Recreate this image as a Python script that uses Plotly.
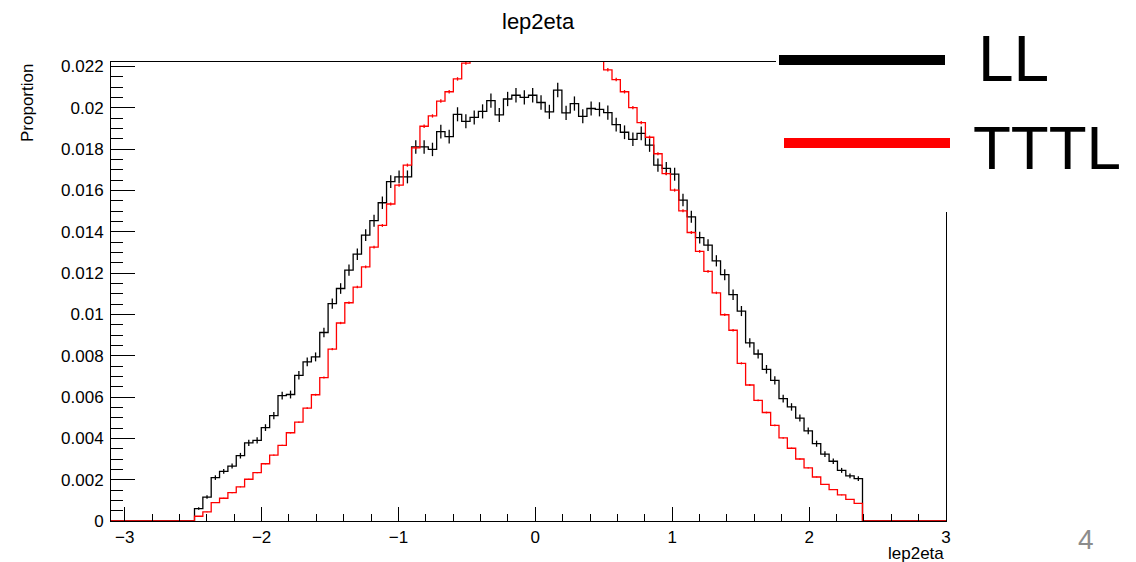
import numpy as np
import plotly.graph_objects as go

# ---------------- data (proportion per bin, 100 bins from -3.1 to 3.0) ----------------
X_MIN = -3.1
X_MAX = 3.0
N_BINS = 100

LL = [
    0, 0, 0, 0, 0, 0, 0, 0, 0, 0,
    0.0006, 0.00116, 0.0021, 0.0024, 0.00266, 0.00316, 0.00378, 0.0039, 0.00452, 0.0051,
    0.00607, 0.00612, 0.00705, 0.0077, 0.00794, 0.00912, 0.01052, 0.01125, 0.01214, 0.01291,
    0.01383, 0.01453, 0.0154, 0.01642, 0.01665, 0.01665, 0.0181, 0.0181, 0.01798, 0.01884,
    0.0186, 0.01968, 0.01934, 0.01953, 0.01982, 0.02034, 0.01965, 0.02042, 0.0206, 0.0205,
    0.0206, 0.02025, 0.0198, 0.02085, 0.01975, 0.0202, 0.01958, 0.01996, 0.01992, 0.01976,
    0.01918, 0.01881, 0.01847, 0.01876, 0.01819, 0.01722, 0.01706, 0.01678, 0.01553, 0.01472,
    0.01371, 0.01335, 0.01259, 0.01192, 0.01095, 0.01016, 0.00862, 0.00808, 0.00734, 0.0068,
    0.00592, 0.00552, 0.00498, 0.00436, 0.00374, 0.00324, 0.00289, 0.00245, 0.00218, 0.00205,
    0, 0, 0, 0, 0, 0, 0, 0, 0, 0,
]

TTTL = [
    0, 0, 0, 0, 0, 0, 0, 0, 0, 0,
    0.00023, 0.00044, 0.00089, 0.0011, 0.00137, 0.00165, 0.00202, 0.00234, 0.00277, 0.00319,
    0.00366, 0.00427, 0.00478, 0.00546, 0.00611, 0.00694, 0.00832, 0.00958, 0.01056, 0.01132,
    0.0123, 0.01325, 0.0143, 0.01534, 0.01625, 0.01722, 0.01805, 0.0191, 0.0196, 0.02032,
    0.02077, 0.02139, 0.02216, 0.02255, 0.0229, 0.02318, 0.02345, 0.0237, 0.02388, 0.02402,
    0.0241, 0.02412, 0.02405, 0.02392, 0.02372, 0.02348, 0.0232, 0.02285, 0.02245, 0.02183,
    0.02136, 0.02077, 0.02, 0.01928, 0.01857, 0.01777, 0.01681, 0.01601, 0.01501, 0.01396,
    0.01305, 0.01208, 0.01104, 0.00998, 0.00923, 0.00763, 0.00658, 0.00584, 0.00525, 0.00463,
    0.00402, 0.00352, 0.003, 0.00257, 0.00213, 0.00177, 0.00152, 0.00126, 0.00105, 0.00085,
    0, 0, 0, 0, 0, 0, 0, 0, 0, 0,
]

# approximate number of entries behind each normalised histogram (sets error-bar size)
LL_ENTRIES = 170000
TTTL_ENTRIES = 3000000

SERIES_NAMES = ["LL", "TTTL"]
TITLE = "lep2eta"
X_TITLE = "lep2eta"
Y_TITLE = "Proportion"
PAGE_NUMBER = "4"

Y_MAX = 0.02221

# ---------------- figure ----------------
W, H = 1136, 562
ML, MR, MT, MB = 111, 190, 62, 41
PW, PH = W - ML - MR, H - MT - MB

edges = np.linspace(X_MIN, X_MAX, N_BINS + 1)
centers = 0.5 * (edges[:-1] + edges[1:])

FONT = "Liberation Sans, Arial, Helvetica, sans-serif"


def px_x(px):
    return (px - ML) / PW


def px_y(py):
    return (H - MB - py) / PH


fig = go.Figure()


def add_hist(values, entries, color):
    v = np.asarray(values, dtype=float)
    fig.add_trace(go.Scatter(
        x=edges, y=np.append(v, v[-1]), mode="lines", line_shape="hv",
        line=dict(color=color, width=1.3), hoverinfo="skip", showlegend=False,
    ))
    nz = v > 0
    err = np.sqrt(v[nz] / entries)
    fig.add_trace(go.Scatter(
        x=centers[nz], y=v[nz], mode="markers",
        marker=dict(size=0.1, color=color),
        error_y=dict(type="data", array=err, width=0, thickness=1.3, color=color),
        hoverinfo="skip", showlegend=False,
    ))


add_hist(LL, LL_ENTRIES, "black")
add_hist(TTTL, TTTL_ENTRIES, "#ff0000")

fig.update_layout(
    width=W, height=H,
    margin=dict(l=ML, r=MR, t=MT, b=MB, pad=0),
    paper_bgcolor="white", plot_bgcolor="white",
    font=dict(family=FONT, size=17, color="black"),
    showlegend=False,
)

fig.update_xaxes(
    range=[X_MIN, X_MAX], showgrid=False, zeroline=False,
    showline=True, linecolor="black", linewidth=1, mirror=True,
    ticks="inside", ticklen=14, tickwidth=1, tickcolor="black",
    tick0=0, dtick=1, ticklabelstandoff=1,
    minor=dict(ticks="inside", ticklen=7, dtick=0.2, tick0=0, tickcolor="black", showgrid=False),
    tickfont=dict(family=FONT, size=17),
)
fig.update_yaxes(
    range=[0, Y_MAX], showgrid=False, zeroline=False,
    showline=True, linecolor="black", linewidth=1, mirror=True,
    ticks="inside", ticklen=24, tickwidth=1, tickcolor="black",
    tick0=0, dtick=0.002, ticklabelstandoff=3,
    minor=dict(ticks="inside", ticklen=12, dtick=0.0005, tick0=0, tickcolor="black", showgrid=False),
    tickfont=dict(family=FONT, size=17),
)

# pasted legend panel (covers the top-right corner of the frame)
shapes = [
    dict(type="rect", xref="paper", yref="paper", layer="above",
         x0=px_x(776), x1=px_x(W + 5), y0=px_y(212), y1=px_y(-5),
         fillcolor="white", line=dict(width=0)),
    dict(type="line", xref="paper", yref="paper", layer="above",
         x0=px_x(779), x1=px_x(945), y0=px_y(60), y1=px_y(60),
         line=dict(color="black", width=10)),
    dict(type="line", xref="paper", yref="paper", layer="above",
         x0=px_x(784), x1=px_x(950), y0=px_y(143), y1=px_y(143),
         line=dict(color="#ff0000", width=10)),
]
fig.update_layout(shapes=shapes)

LEG_FONT = "Liberation Sans, Arial, sans-serif"
annotations = [
    dict(text=TITLE, x=px_x(538), y=px_y(21), xref="paper", yref="paper",
         xanchor="center", yanchor="middle", showarrow=False,
         font=dict(family=FONT, size=22, color="black")),
    dict(text=Y_TITLE, x=px_x(27), y=1.0, xref="paper", yref="paper",
         xanchor="center", yanchor="top", textangle=-90, showarrow=False,
         font=dict(family=FONT, size=17, color="black")),
    dict(text=X_TITLE, x=1.0, y=px_y(553), xref="paper", yref="paper",
         xanchor="right", yanchor="middle", showarrow=False,
         font=dict(family=FONT, size=17, color="black")),
    dict(text=PAGE_NUMBER, x=px_x(1086), y=px_y(539), xref="paper", yref="paper",
         xanchor="center", yanchor="middle", showarrow=False,
         font=dict(family=FONT, size=28, color="#8c8c8c")),
    dict(text=SERIES_NAMES[0], x=px_x(976), y=px_y(59), xref="paper", yref="paper",
         xanchor="left", yanchor="middle", showarrow=False,
         font=dict(family=LEG_FONT, size=64, color="black")),
    dict(text=SERIES_NAMES[1], x=px_x(971), y=px_y(147), xref="paper", yref="paper",
         xanchor="left", yanchor="middle", showarrow=False,
         font=dict(family=LEG_FONT, size=62, color="black")),
]
fig.update_layout(annotations=annotations)

fig.write_html("out.html")
